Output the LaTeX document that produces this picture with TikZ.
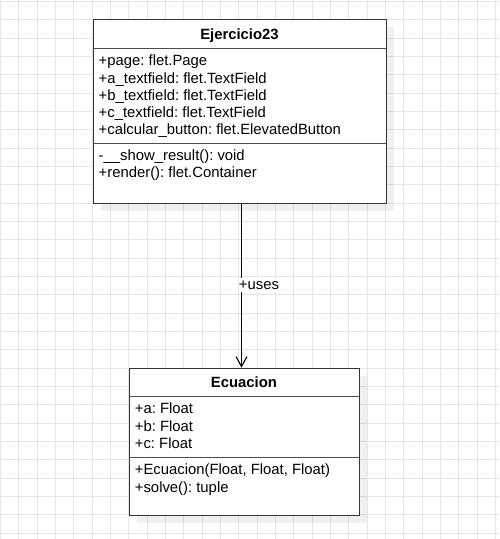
\documentclass[tikz,border=0pt]{standalone}
\usepackage{fontspec}
\setmainfont{Liberation Sans}
\usetikzlibrary{arrows.meta, positioning, shadows}
\frenchspacing

\tikzset{
  gridline/.style={draw=gray!20, line width=0.8pt},
  umlbox/.style={draw=black!80, line width=1.2pt, fill=white, inner sep=0pt, anchor=north west,
    drop shadow={shadow xshift=7.5pt, shadow yshift=-7.5pt, fill=black, opacity=0.06}},
  sepline/.style={draw=black!70, line width=1.2pt},
  classname/.style={anchor=base, inner sep=0pt, font=\fontsize{14.85}{17.3}\selectfont\bfseries},
  member/.style={anchor=base west, inner sep=0pt, font=\fontsize{14.85}{17.3}\selectfont},
  uses/.style={draw=black, line width=1.1pt, -{Straight Barb[length=10pt, width=11pt]}},
  assoclabel/.style={anchor=base, fill=white, inner sep=0pt, text height=12pt, text depth=2.5pt,
    font=\fontsize{14.85}{17.3}\selectfont},
}

\begin{document}
\begin{tikzpicture}[x=1pt, y=-1pt]
\useasboundingbox (0,0) rectangle (499,539);
% background grid
\foreach \i in {0,...,27} \draw[gridline] (0.5+\i*18.33,0) -- (0.5+\i*18.33,539);
\foreach \j in {0,...,29} \draw[gridline] (0,1.4+\j*18.33) -- (499,1.4+\j*18.33);

% class Ejercicio23
\node[umlbox, minimum width=293pt, minimum height=184pt] (ejercicio) at (93,19) {};
\draw[sepline] (93,48.3) -- (386,48.3);
\draw[sepline] (93,143.2) -- (386,143.2);
\node[classname] (ejTitle) at (239.5,39) {Ejercicio23};
\node[member] (ejPage)   at (98.5,65.7)  {+page: flet.Page};
\node[member] (ejA)      at (98.5,83)    {+a\_textfield: flet.TextField};
\node[member] (ejB)      at (98.5,100.3) {+b\_textfield: flet.TextField};
\node[member] (ejC)      at (98.5,117.6) {+c\_textfield: flet.TextField};
\node[member] (ejButton) at (98.5,134.9) {+calcular\_button: flet.ElevatedButton};
\node[member] (ejShow)   at (98.5,160.4) {-\_\_show\_result(): void};
\node[member] (ejRender) at (98.5,177.7) {+render(): flet.Container};

% class Ecuacion
\node[umlbox, minimum width=229.7pt, minimum height=147.3pt] (ecuacion) at (129,367.7) {};
\draw[sepline] (129,396.3) -- (358.7,396.3);
\draw[sepline] (129,457.3) -- (358.7,457.3);
\node[classname] (ecTitle) at (243.9,387) {Ecuacion};
\node[member] (ecA)     at (134.7,413.7) {+a: Float};
\node[member] (ecB)     at (134.7,431)   {+b: Float};
\node[member] (ecC)     at (134.7,448.3) {+c: Float};
\node[member] (ecInit)  at (134.7,474.7) {+Ecuacion(Float, Float, Float)};
\node[member] (ecSolve) at (134.7,492)   {+solve(): tuple};

% association
\coordinate (link) at (241.5,0);
\draw[uses] (ejercicio.south -| link) -- (ecuacion.north -| link)
  node[assoclabel, pos=0.524, xshift=17.5pt] (usesLabel) {+uses};
\end{tikzpicture}
\end{document}
